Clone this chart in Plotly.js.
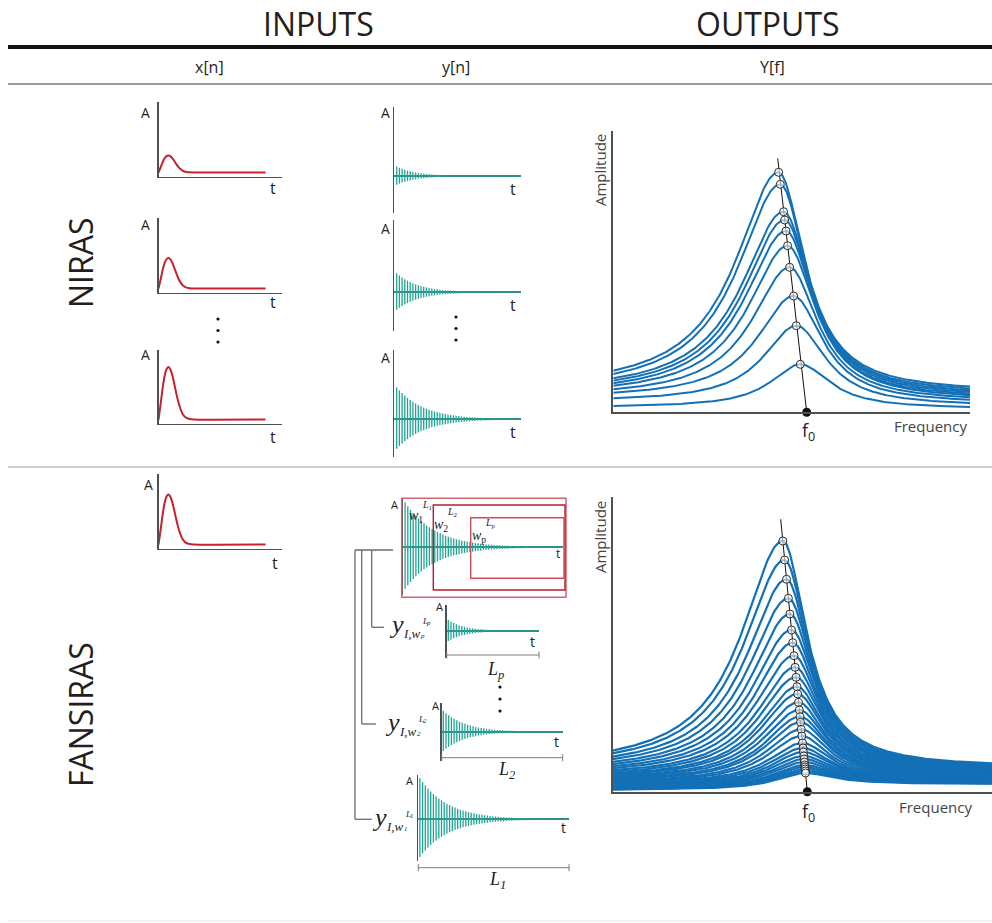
<!DOCTYPE html>
<html>
<head>
<meta charset="utf-8">
<script src="https://cdn.plot.ly/plotly-3.0.1.min.js"></script>
<style>
  html, body { margin: 0; padding: 0; background: #fff; }
  #chart { width: 992px; height: 923px; }
</style>
</head>
<body>
<div id="chart"></div>
<script>
const W = 992, H = 923;

// ---------- input pulses x[n] (red) ----------
const pulseT     = [0, 2, 4, 6, 8, 10, 12, 14, 16, 18, 20, 22, 24, 26, 28, 31, 35, 107];
const pulseShape = [0, 0.28, 0.58, 0.82, 0.96, 1.0, 0.95, 0.83, 0.66, 0.48, 0.32, 0.2, 0.11, 0.06, 0.03, 0.01, 0, 0];
const pulseHeights = [17, 30.6, 52.4, 50];      // NIRAS rows 1..3, FANSIRAS
const pulseBase = 4.5;

// ---------- ringing responses y[n] (teal) ----------
const ringNirasAmp   = [9.5, 19, 32];
const ringNirasDecay = [19, 22, 27];
const ringFanAmp = 45, ringFanDecay = 30;
const ringWinAmp   = [41, 21, 11];              // windows L1, L2, Lp
const ringWinDecay = [28, 22, 17];
const ringStep = 2.7;

// ---------- spectra Y[f] (NIRAS) ----------
const nirasF0 = 193.4;
const nirasTrend = { f: [193.4, 164.4], a: [0, 254] };
const nirasPeakF  = [165.3, 167, 170.3, 171.3, 172.7, 174.3, 176.3, 180.3, 183, 187];
const nirasPeakA  = [240, 228, 200.6, 192.3, 181.3, 166.6, 145, 116.3, 86.6, 48];
const nirasFloorL = [22, 20, 19, 18, 16.3, 16, 14.7, 13.9, 10.5, 4.8];
const nirasFloorR = [19.7, 18, 16.5, 15, 13.5, 12, 10.5, 8.5, 6, 3.5];
const nirasWidthL = [52, 52, 51, 50, 50, 48, 46, 44, 40, 36];
const nirasWidthR = [32, 32, 33, 33, 33, 34, 34, 35, 36, 36];

// ---------- spectra Y[f] (FANSIRAS) ----------
const fanF0 = 194.6;
const fanTrend = { f: [194.6, 168], a: [0, 272.4] };
const fanPeakA = [250.7, 231.7, 212.4, 193.4, 177.7, 161.7, 149, 136, 124.4, 114.4, 105, 97.7, 89.4, 81.7, 75,
                  69.4, 62.4, 55.7, 48.7, 43.7, 39.7, 35.7, 32.7, 29.7, 26.7, 24.7, 22.7, 20.7, 18.7];
const fanPeakF = [170.1, 171.9, 173.8, 175.7, 177.2, 178.8, 180.0, 181.3, 182.4, 183.4, 184.3, 185.0, 185.8, 186.6, 187.3,
                  187.8, 188.5, 189.1, 189.8, 190.3, 190.7, 191.1, 191.4, 191.7, 192.0, 192.2, 192.4, 192.6, 192.8];
const fanFloorL = [23, 22, 21, 20, 19, 18, 17, 16, 15, 14, 13.2, 12.4, 11.6, 10.8, 10,
                   9.3, 8.6, 7.9, 7.2, 6.5, 5.9, 5.3, 4.7, 4.1, 3.5, 3, 2.5, 2, 1.5];
const fanFloorR = [24, 23.3, 22.6, 21.9, 21.2, 20.5, 19.8, 19.1, 18.4, 17.7, 17, 16.3, 15.7, 15.1, 14.5,
                   13.9, 13.3, 12.7, 12.1, 11.6, 11.1, 10.6, 10.1, 9.6, 9.2, 8.8, 8.4, 8, 7.6];
const fanWidthL = [50, 50, 49, 49, 48, 48, 47, 47, 46, 46, 45, 45, 44, 44, 43,
                   43, 42, 42, 41, 41, 40, 40, 39, 39, 38, 38, 37, 37, 36];
const fanWidthR = [29, 29, 29, 29.5, 29.5, 30, 30, 30, 30.5, 30.5, 31, 31, 31, 31.5, 31.5,
                   32, 32, 32, 32.5, 32.5, 33, 33, 33, 33.5, 33.5, 34, 34, 34, 34];

// ---------- colours / fonts ----------
const RED = '#c8202f', TEAL = '#1fa595', TEAL_AX = '#2e8f86', BLUE = '#1370b7', AX = '#505050', INK = '#231f20';
const SANS = 'Open Sans, Liberation Sans, sans-serif';
const SERIF = 'Liberation Serif, DejaVu Serif, serif';

const layout = {
  width: W, height: H,
  margin: { l: 0, r: 0, t: 0, b: 0 },
  paper_bgcolor: '#fff', plot_bgcolor: 'rgba(0,0,0,0)',
  showlegend: false,
  font: { family: SANS, color: INK },
  shapes: [], annotations: []
};
const traces = [];

// paper helpers (pixel -> paper fraction)
const PX = v => v / W;
const PY = v => 1 - v / H;

let axN = 0;
function panel(x0, x1, yTop, yBot, xr, yr, o) {
  axN++;
  const s = axN === 1 ? '' : String(axN);
  layout['xaxis' + s] = {
    domain: [PX(x0), PX(x1)], range: xr, anchor: 'y' + s, fixedrange: true,
    showgrid: false, zeroline: false, showticklabels: false, ticks: '',
    showline: !!o.xline, linecolor: AX, linewidth: o.lw || 1.4
  };
  layout['yaxis' + s] = {
    domain: [PY(yBot), PY(yTop)], range: yr, anchor: 'x' + s, fixedrange: true,
    showgrid: false, showticklabels: false, ticks: '',
    zeroline: !!o.zero, zerolinecolor: TEAL_AX, zerolinewidth: 2,
    showline: true, linecolor: AX, linewidth: o.lw || 1.4
  };
  return { xaxis: 'x' + s, yaxis: 'y' + s };
}

function text(x, y, t, size, extra) {
  layout.annotations.push(Object.assign({
    xref: 'paper', yref: 'paper', x: PX(x), y: PY(y), text: t, showarrow: false,
    xanchor: 'center', yanchor: 'middle', font: { size: size, color: INK, family: SANS }
  }, extra || {}));
}
function line(x0, y0, x1, y1, color, width) {
  layout.shapes.push({ type: 'line', xref: 'paper', yref: 'paper', x0: PX(x0), y0: PY(y0), x1: PX(x1), y1: PY(y1),
    line: { color: color, width: width } });
}
function rect(x0, y0, x1, y1, color, width) {
  layout.shapes.push({ type: 'rect', xref: 'paper', yref: 'paper', x0: PX(x0), y0: PY(y0), x1: PX(x1), y1: PY(y1),
    line: { color: color, width: width }, fillcolor: 'rgba(0,0,0,0)' });
}
function dot(x, y) {
  const r = 1.6;
  layout.shapes.push({ type: 'circle', xref: 'paper', yref: 'paper', x0: PX(x - r), x1: PX(x + r), y0: PY(y + r), y1: PY(y - r),
    line: { width: 0 }, fillcolor: '#111' });
}

// ---------- header ----------
text(318, 23, 'INPUTS', 32);
text(768, 23, 'OUTPUTS', 32);
line(8, 47, 992, 47, '#111', 4);
text(209, 67, 'x[n]', 16);
text(456, 67, 'y[n]', 16);
text(772, 67, 'Y[f]', 16);
line(8, 84, 992, 84, '#7a7a7a', 1.5);
line(8, 467, 992, 467, '#9a9a9a', 1);
line(8, 921, 992, 921, '#e2e2e2', 1);

text(80, 263, 'NIRAS', 32, { textangle: -90 });
text(80, 715, 'FANSIRAS', 32, { textangle: -90 });

// ---------- red pulse panels ----------
const redBoxes = [[102, 177], [218, 293], [350, 424], [474, 549]];
const redLabels = [[112, 188], [224, 302], [355, 437], [484, 563]];
redBoxes.forEach((b, i) => {
  const ax = panel(158.5, 282, b[0], b[1], [0, 123.5], [0, b[1] - b[0]], { xline: true });
  traces.push(Object.assign({
    type: 'scatter', mode: 'lines', x: pulseT,
    y: pulseShape.map(v => pulseBase + pulseHeights[i] * v),
    line: { color: RED, width: 2, shape: 'spline', smoothing: 0.6 }, hoverinfo: 'skip'
  }, ax));
  text(i === 3 ? 148 : 145, redLabels[i][0], 'A', 14);
  text(i === 3 ? 275 : 273, redLabels[i][1], 't', 16);
});

// ---------- ringing helper: each sample drawn as a stem across its envelope ----------
function ring(ax, x0, xmax, amp, decay) {
  const xs = [], ys = [];
  for (let n = 0; x0 + n * ringStep <= xmax; n++) {
    const x = x0 + n * ringStep;
    const e = amp * Math.exp(-(x - x0) / decay);
    xs.push(x, x, null);
    ys.push(e, -0.92 * e, null);
  }
  traces.push(Object.assign({
    type: 'scatter', mode: 'lines', x: xs, y: ys, connectgaps: false,
    line: { color: TEAL, width: 1.3 }, hoverinfo: 'skip'
  }, ax));
}

// NIRAS teal panels
const tealBoxes = [[107, 213, 176], [220, 331, 292.3], [350, 457, 419.3]];
const tealLabels = [[112, 189], [228, 305], [357, 432]];
tealBoxes.forEach((b, i) => {
  const ax = panel(394, 521, b[0], b[1], [0, 127], [-(b[1] - b[2]), b[2] - b[0]], { zero: true });
  ring(ax, 2.7, 126, ringNirasAmp[i], ringNirasDecay[i]);
  text(385, tealLabels[i][0], 'A', 14);
  text(513, tealLabels[i][1], 't', 16);
});

// dots between rows
[[218, [319, 330.5, 342]], [456, [317, 328.5, 340]], [500, [687, 699, 711]]].forEach(d => d[1].forEach(y => dot(d[0], y)));

// ---------- FANSIRAS windowed panels ----------
{
  const ax = panel(403.3, 563, 498, 595, [0, 159.7], [-(595 - 547.3), 547.3 - 498], { zero: true });
  ring(ax, 1.8, 159, ringFanAmp, ringFanDecay);
  text(394, 504, 'A', 11);
  text(558, 553, 't', 12);
}
rect(401.7, 498.3, 566, 597.3, '#d4646f', 1.5);
rect(433.3, 505, 565, 590, '#b51d2e', 1.4);
rect(470.7, 517.7, 564, 578.3, '#cf4a57', 1.4);
const sf = (s) => ({ font: { size: s, family: SERIF, color: INK } });
text(427, 505, '<i>L</i><sub>1</sub>', 10, sf(10));
text(416, 516, '<i>w</i><sub>1</sub>', 14, sf(14));
text(452, 512, '<i>L</i><sub>2</sub>', 10, sf(10));
text(441, 525, '<i>w</i><sub>2</sub>', 14, sf(14));
text(490, 523, '<i>L</i><sub>p</sub>', 10, sf(10));
text(479, 536, '<i>w</i><sub>p</sub>', 14, sf(14));

// tree connecting the windows to their outputs
const TREE = '#6a6a6a';
line(355, 550, 393, 550, TREE, 1.3);
line(355, 550, 355, 819.3, TREE, 1.3);  line(355, 819.3, 371.7, 819.3, TREE, 1.3);
line(361.7, 550, 361.7, 724, TREE, 1.3); line(361.7, 724, 376, 724, TREE, 1.3);
line(371.7, 550, 371.7, 627.3, TREE, 1.3); line(371.7, 627.3, 384, 627.3, TREE, 1.3);

// windowed outputs: L1, L2, Lp
const winPanels = [
  { x0: 418.3, x1: 569, top: 775, bot: 860.7, zero: 819.3, bracket: 867.7, A: [409, 780], t: [563, 827], L: [497, 880], sub: '1', y: [379, 817] },
  { x0: 441.7, x1: 562.7, top: 703, bot: 761, zero: 731.7, bracket: 757.7, A: [435, 705], t: [556, 741], L: [507, 770], sub: '2', y: [392, 722] },
  { x0: 446.7, x1: 539, top: 605, bot: 658, zero: 631, bracket: 655, A: [439, 606], t: [532, 641], L: [495, 670], sub: 'p', y: [396, 624] }
];
winPanels.forEach((p, i) => {
  const ax = panel(p.x0, p.x1, p.top, p.bot, [0, p.x1 - p.x0], [-(p.bot - p.zero), p.zero - p.top], { zero: true });
  ring(ax, 1.6, p.x1 - p.x0 - 1, ringWinAmp[i], ringWinDecay[i]);
  text(p.A[0], p.A[1], 'A', 11);
  text(p.t[0], p.t[1], 't', 14);
  line(p.x0, p.bracket, p.x1, p.bracket, '#7a7a7a', 1);
  line(p.x0, p.bracket - 3.5, p.x0, p.bracket + 3.5, '#7a7a7a', 1);
  line(p.x1, p.bracket - 3.5, p.x1, p.bracket + 3.5, '#7a7a7a', 1);
  text(p.L[0], p.L[1], '<i>L<sub>' + p.sub + '</sub></i>', 18, sf(18));
  // y_{I,w_k}^{L_k}
  text(p.y[0], p.y[1], '<i>y</i>', 26, sf(26));
  text(p.y[0] + 16, p.y[1] + 9, '<i>I,w</i>', 13, sf(13));
  text(p.y[0] + 26.5, p.y[1] + 12, '<i>' + p.sub + '</i>', 7, sf(7));
  text(p.y[0] + 28.5, p.y[1] - 3, '<i>L</i>', 9, sf(9));
  text(p.y[0] + 32.5, p.y[1] - 1.5, '<i>' + p.sub + '</i>', 7, sf(7));
});

// ---------- spectra ----------
function spectrum(f, fp, a, bl, br, gl, gr) {
  const d = f - fp;
  return d < 0 ? bl + (a - bl) / (1 + (d / gl) ** 2) : br + (a - br) / (1 + (d / gr) ** 2);
}
function spectraPanel(ax, fmax, peakF, peakA, floorL, floorR, widthL, widthR, trend, f0, lw) {
  const fs = [];
  for (let f = 0; f <= fmax; f += 1) fs.push(f);
  for (let i = peakA.length - 1; i >= 0; i--) {
    traces.push(Object.assign({
      type: 'scatter', mode: 'lines', x: fs,
      y: fs.map(f => spectrum(f, peakF[i], peakA[i], floorL[i], floorR[i], widthL[i], widthR[i])),
      line: { color: BLUE, width: lw }, hoverinfo: 'skip'
    }, ax));
  }
  traces.push(Object.assign({ type: 'scatter', mode: 'lines', x: trend.f, y: trend.a,
    line: { color: '#111', width: 1 }, hoverinfo: 'skip', cliponaxis: false }, ax));
  traces.push(Object.assign({ type: 'scatter', mode: 'markers', x: peakF, y: peakA,
    marker: { symbol: 'circle', size: 8, color: 'rgba(255,255,255,0.6)', line: { color: '#2a2a2a', width: 1 } },
    hoverinfo: 'skip', cliponaxis: false }, ax));
  traces.push(Object.assign({ type: 'scatter', mode: 'markers', x: [f0], y: [0],
    marker: { size: 9, color: '#111' }, hoverinfo: 'skip', cliponaxis: false }, ax));
}

{
  const ax = panel(613.3, 970, 130.7, 412.3, [0, 356.7], [0, 281.6], { xline: true, lw: 2 });
  spectraPanel(ax, 357, nirasPeakF, nirasPeakA, nirasFloorL, nirasFloorR, nirasWidthL, nirasWidthR, nirasTrend, nirasF0, 2);
  text(600, 170, 'Amplitude', 15, { textangle: -90, font: { size: 15, family: SANS, color: '#444' } });
  text(930, 426, 'Frequency', 15, { font: { size: 15, family: SANS, color: '#444' } });
  text(808, 432, 'f<sub>0</sub>', 18);
}
{
  const ax = panel(612.7, 992, 496.7, 791.7, [0, 379.3], [0, 295], { xline: true, lw: 2 });
  spectraPanel(ax, 380, fanPeakF, fanPeakA, fanFloorL, fanFloorR, fanWidthL, fanWidthR, fanTrend, fanF0, 2.2);
  text(600, 537, 'Amplitude', 15, { textangle: -90, font: { size: 15, family: SANS, color: '#444' } });
  text(935, 807, 'Frequency', 15, { font: { size: 15, family: SANS, color: '#444' } });
  text(808, 812, 'f<sub>0</sub>', 18);
}

Plotly.newPlot('chart', traces, layout, { staticPlot: true, displayModeBar: false });
</script>
</body>
</html>
